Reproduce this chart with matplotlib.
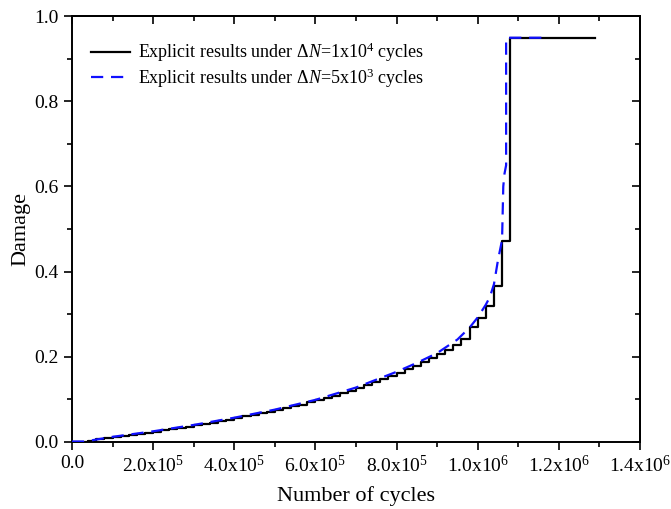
import matplotlib

matplotlib.use("Agg")
import matplotlib.pyplot as plt
from matplotlib.ticker import MultipleLocator, FixedLocator, FixedFormatter

# cycles in units of 1e4
black_cycles = [0, 2, 4, 6, 8, 10, 12, 14, 16, 18, 20, 22, 24, 26, 28, 30, 32, 34, 36, 38,
                40, 42, 44, 46, 48, 50, 52, 54, 56, 58, 60, 62, 64, 66, 68, 70, 72, 74, 76, 78,
                80, 82, 84, 86, 88, 90, 92, 94, 96, 98, 100, 102, 104, 106, 108, 129]
black_damage = [0.000, 0.000, 0.002, 0.005, 0.008, 0.010, 0.012, 0.015, 0.017, 0.020,
                0.023, 0.026, 0.029, 0.032, 0.035, 0.038, 0.041, 0.044, 0.048, 0.051,
                0.055, 0.059, 0.062, 0.066, 0.070, 0.074, 0.078, 0.083, 0.087, 0.092,
                0.097, 0.102, 0.107, 0.113, 0.119, 0.125, 0.132, 0.139, 0.146, 0.154,
                0.162, 0.170, 0.178, 0.187, 0.196, 0.205, 0.216, 0.228, 0.242, 0.270,
                0.290, 0.319, 0.366, 0.472, 0.950, 0.950]

blue_cycles = [0, 3, 5, 10, 20, 30, 40, 50, 60, 70, 80, 85, 90, 95, 98, 100, 102, 103,
               104, 105, 106, 106.3, 106.6, 107, 107, 117]
blue_damage = [0.000, 0.000, 0.003, 0.011, 0.024, 0.039, 0.056, 0.075, 0.098, 0.127,
               0.164, 0.185, 0.208, 0.240, 0.268, 0.292, 0.322, 0.340, 0.370, 0.427,
               0.474, 0.600, 0.630, 0.650, 0.950, 0.950]

x_ticks = [0, 2e5, 4e5, 6e5, 8e5, 1.0e6, 1.2e6, 1.4e6]
x_ticklabels = ["0.0", r"2.0x10$^{5}$", r"4.0x10$^{5}$", r"6.0x10$^{5}$", r"8.0x10$^{5}$",
                r"1.0x10$^{6}$", r"1.2x10$^{6}$", r"1.4x10$^{6}$"]
labels = [r"Explicit results under $\Delta\mathit{N}$=1x10$^{4}$ cycles",
          r"Explicit results under $\Delta\mathit{N}$=5x10$^{3}$ cycles"]

plt.rcParams["font.family"] = ["Liberation Serif", "DejaVu Serif"]
plt.rcParams["mathtext.fontset"] = "custom"
plt.rcParams["mathtext.rm"] = "Liberation Serif"
plt.rcParams["mathtext.it"] = "Liberation Serif:italic"

fig = plt.figure(figsize=(6.71, 5.09), dpi=100)
ax = fig.add_axes([0.1073, 0.1326, 0.8465, 0.835])

ax.plot([c * 1e4 for c in black_cycles], black_damage, color="black", lw=1.6,
        drawstyle="steps-post", label=labels[0], zorder=2)
ax.plot([c * 1e4 for c in blue_cycles], blue_damage, color="#1010ff", lw=1.6,
        dashes=(5.5, 3.5), label=labels[1], zorder=3)

ax.set_xlim(0, 1.4e6)
ax.set_ylim(0, 1.0)
ax.xaxis.set_major_locator(FixedLocator(x_ticks))
ax.xaxis.set_major_formatter(FixedFormatter(x_ticklabels))
ax.xaxis.set_minor_locator(MultipleLocator(1e5))
ax.yaxis.set_major_locator(MultipleLocator(0.2))
ax.yaxis.set_minor_locator(MultipleLocator(0.1))
ax.yaxis.set_major_formatter(lambda v, p: f"{v:.1f}")

for s in ax.spines.values():
    s.set_linewidth(1.4)
ax.tick_params(which="both", direction="out", top=False, right=False, width=1.2, labelsize=14)
ax.tick_params(which="major", length=6)
ax.tick_params(which="minor", length=3.5)
ax.tick_params(axis="x", pad=4)

# inward ticks on top/right, no labels
tx = ax.secondary_xaxis("top")
tx.xaxis.set_major_locator(FixedLocator(x_ticks))
tx.xaxis.set_minor_locator(MultipleLocator(1e5))
tx.tick_params(which="both", direction="in", labeltop=False, width=1.2)
tx.tick_params(which="major", length=6)
tx.tick_params(which="minor", length=3.5)
tx.spines["top"].set_linewidth(1.4)
ty = ax.secondary_yaxis("right")
ty.yaxis.set_major_locator(MultipleLocator(0.2))
ty.yaxis.set_minor_locator(MultipleLocator(0.1))
ty.tick_params(which="both", direction="in", labelright=False, width=1.2)
ty.tick_params(which="major", length=6)
ty.tick_params(which="minor", length=3.5)
ty.spines["right"].set_linewidth(1.4)

ax.set_xlabel("Number of cycles", fontsize=16, labelpad=7)
ax.set_ylabel("Damage", fontsize=16, labelpad=3)

ax.legend(loc="upper left", bbox_to_anchor=(0.02, 0.96), frameon=False, fontsize=13,
          handlelength=2.2, handletextpad=0.4, labelspacing=0.12, borderaxespad=0)

fig.savefig("out.png", dpi=100)
